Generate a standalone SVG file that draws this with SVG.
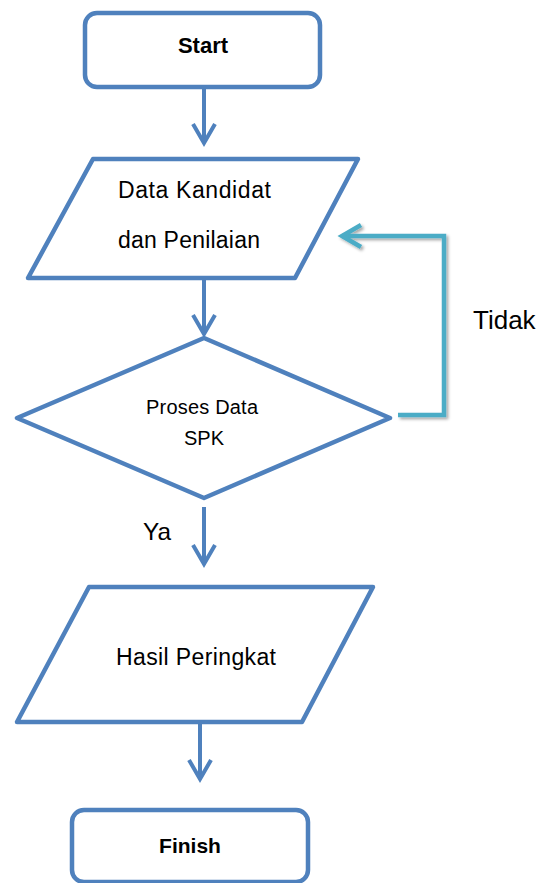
<svg xmlns="http://www.w3.org/2000/svg" width="539" height="883" viewBox="0 0 539 883">
<style>
.shape{fill:#ffffff;stroke:#4F81BD;stroke-width:4.5;stroke-linejoin:round}
.conn{fill:none;stroke:#4F81BD;stroke-width:4}
.loop{fill:none;stroke:#4BACC6;stroke-width:4.5;filter:url(#sh)}
.t{font-family:"Liberation Sans",Arial,sans-serif;fill:#000000}
.b{font-weight:bold}
</style>
<defs>
<filter id="sh" x="-20%" y="-20%" width="140%" height="140%">
<feDropShadow dx="2" dy="2" stdDeviation="1.5" flood-color="#000000" flood-opacity="0.35"/>
</filter>
<marker id="ah" markerUnits="userSpaceOnUse" viewBox="-24 -15 28 30" refX="0" refY="0" markerWidth="28" markerHeight="30" orient="auto" overflow="visible">
<path d="M-19,-11 L0,0 L-19,11" fill="none" stroke="#4F81BD" stroke-width="4" stroke-linejoin="miter"/>
</marker>
<marker id="ahT" markerUnits="userSpaceOnUse" viewBox="-24 -15 28 30" refX="0" refY="0" markerWidth="28" markerHeight="30" orient="auto" overflow="visible">
<path d="M-19,-11 L0,0 L-19,11" fill="none" stroke="#4BACC6" stroke-width="4.5" stroke-linejoin="miter"/>
</marker>
</defs>
<rect width="539" height="883" fill="#ffffff"/>
<g id="connectors">
<path class="conn" d="M204,87 L204,143" marker-end="url(#ah)"/>
<path class="conn" d="M204,278 L204,334" marker-end="url(#ah)"/>
<path class="conn" d="M204,507 L204,564" marker-end="url(#ah)"/>
<path class="conn" d="M200,723 L200,779" marker-end="url(#ah)"/>
<path class="loop" d="M398,415 L444,415 L444,236 L342,236" marker-end="url(#ahT)"/>
<text class="t" x="473" y="329" font-size="26">Tidak</text>
<text class="t" x="143" y="540" font-size="24" textLength="28" lengthAdjust="spacingAndGlyphs">Ya</text>
</g>
<g id="start">
<rect class="shape" x="85" y="13" width="235" height="74" rx="12"/>
<text class="t b" x="203" y="53" font-size="22" text-anchor="middle">Start</text>
</g>
<g id="input-data">
<polygon class="shape" points="93,159 358,159 295,278 28,278"/>
<text class="t" x="118" y="198" font-size="23" textLength="153" lengthAdjust="spacing">Data Kandidat</text>
<text class="t" x="118" y="248" font-size="23" textLength="142" lengthAdjust="spacing">dan Penilaian</text>
</g>
<g id="decision">
<polygon class="shape" points="204,338 390,418 204,498 17,418"/>
<text class="t" x="146" y="414" font-size="20" textLength="112" lengthAdjust="spacing">Proses Data</text>
<text class="t" x="204" y="445" font-size="20" text-anchor="middle">SPK</text>
</g>
<g id="output">
<polygon class="shape" points="89,587 373,587 302,722 17,722"/>
<text class="t" x="116" y="665" font-size="23" textLength="160" lengthAdjust="spacing">Hasil Peringkat</text>
</g>
<g id="finish">
<rect class="shape" x="72" y="810" width="236" height="72" rx="12"/>
<text class="t b" x="190" y="853" font-size="21" text-anchor="middle">Finish</text>
</g>
</svg>
